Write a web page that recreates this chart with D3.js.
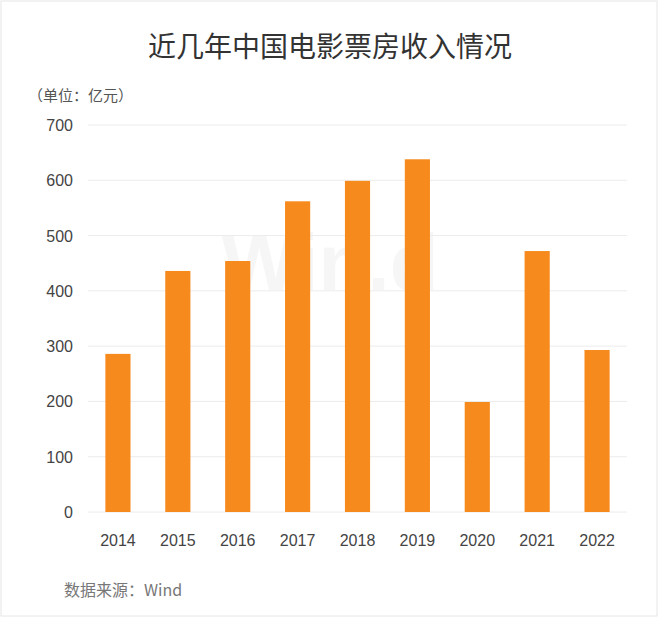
<!DOCTYPE html>
<html><head><meta charset="utf-8">
<script src="https://cdn.jsdelivr.net/npm/d3@7"></script>
<style>body{margin:0;background:#fff;font-family:"Noto Sans CJK SC","Noto Sans",sans-serif}</style>
</head><body>
<script>
const categories=["2014","2015","2016","2017","2018","2019","2020","2021","2022"];
const values=[286,436,454,562,599,638,199,472,293];
const yTicks=[0,100,200,300,400,500,600,700];
const W=660,H=619;
const svg=d3.select("body").append("svg").attr("width",W).attr("height",H);
svg.append("rect").attr("x",1).attr("y",1).attr("width",W-4).attr("height",H-4).attr("fill","#fff").attr("stroke","#e6e6e6");
const m={l:88,r:627,t:125,b:512};
const x=d3.scaleBand().domain(categories).range([m.l,m.r]).paddingInner(0.58).paddingOuter(0.29);
const y=d3.scaleLinear().domain([0,700]).range([m.b,m.t]);
svg.append("text").attr("x",330).attr("y",57).attr("text-anchor","middle").attr("font-size",28).attr("fill","#333").text("近几年中国电影票房收入情况");
svg.append("text").attr("x",28).attr("y",101).attr("font-size",15).attr("fill","#555").text("（单位：亿元）");
svg.append("text").attr("x",330).attr("y",290).attr("text-anchor","middle").attr("font-size",80).attr("font-weight","bold").attr("fill","#000").attr("opacity",0.03).attr("font-family","Arial").text("Win.d");
svg.append("g").selectAll("line").data(yTicks).join("line").attr("x1",m.l).attr("x2",m.r).attr("y1",d=>y(d)).attr("y2",d=>y(d)).attr("stroke","#ececec");
svg.append("g").selectAll("text").data(yTicks).join("text").attr("x",73).attr("y",d=>y(d)+6).attr("text-anchor","end").attr("font-size",16).attr("fill","#444").attr("font-family","Arial,Liberation Sans").text(d=>d);
svg.append("g").selectAll("rect").data(values).join("rect").attr("x",(d,i)=>x(categories[i])).attr("width",x.bandwidth()).attr("y",d=>y(d)).attr("height",d=>m.b-y(d)).attr("fill","#f78a1d");
svg.append("g").selectAll("text").data(categories).join("text").attr("x",d=>x(d)+x.bandwidth()/2).attr("y",546).attr("text-anchor","middle").attr("font-size",16).attr("fill","#444").attr("font-family","Arial,Liberation Sans").text(d=>d);
svg.append("text").attr("x",64).attr("y",596).attr("font-size",16).attr("fill","#777").text("数据来源：Wind");
</script></body></html>
